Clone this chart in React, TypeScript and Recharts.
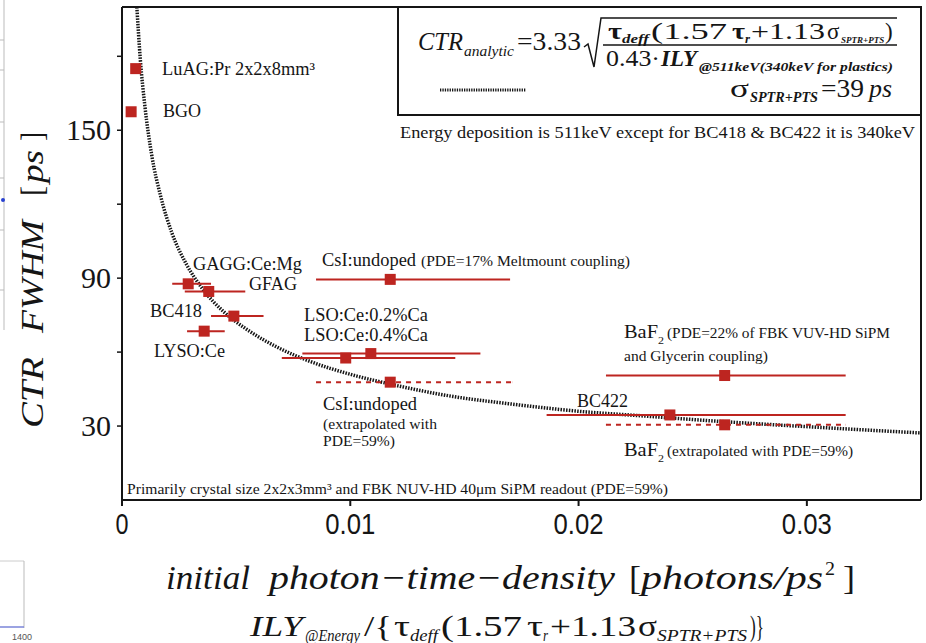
import React from "react";
import {
  ComposedChart,
  Scatter,
  Line,
  XAxis,
  YAxis,
  ErrorBar,
} from "recharts";

// measured crystals (solid error bars)
const crystals = [
  "LuAG:Pr",
  "BGO",
  "GAGG:Ce:Mg",
  "GFAG",
  "BC418",
  "LYSO:Ce",
  "CsI:undoped",
  "LSO:Ce:0.2%Ca",
  "LSO:Ce:0.4%Ca",
  "BaF2",
  "BC422",
];
const density = [0.0006, 0.0004, 0.0029, 0.0038, 0.0049, 0.0036, 0.01175, 0.0109, 0.0098, 0.0264, 0.024];
const ctr = [175, 157.5, 87.7, 84.6, 74.6, 68.5, 89.5, 59.4, 57.6, 50.5, 34.5];
const densityLow = [0.0006, 0.0004, 0.0022, 0.00275, 0.0039, 0.00285, 0.0085, 0.0079, 0.007, 0.0212, 0.0186];
const densityHigh = [0.0006, 0.0004, 0.0039, 0.0054, 0.0062, 0.0045, 0.017, 0.0157, 0.0146, 0.0317, 0.0317];

// extrapolated with PDE=59% (dashed error bars)
const extraCrystals = ["CsI:undoped", "BaF2"];
const extraDensity = [0.01175, 0.0264];
const extraCtr = [47.8, 30.5];
const extraLow = [0.0085, 0.0212];
const extraHigh = [0.0171, 0.0317];

// analytic curve
const curveX = [0.00065, 0.0008, 0.001, 0.0013, 0.0017, 0.0022, 0.0028, 0.0035, 0.0045, 0.0055, 0.0068, 0.0083, 0.01, 0.012, 0.0145, 0.017, 0.02, 0.023, 0.026, 0.029, 0.032, 0.035];
const curveY = [200, 179, 160, 140, 123, 108, 96, 86, 76, 69, 62, 56, 51, 46.5, 42, 39, 36, 34, 32, 30.3, 28.7, 27.2];

const xTicks = [0, 0.01, 0.02, 0.03];
const xTickLabels = ["0", "0.01", "0.02", "0.03"];
const yTicks = [30, 60, 90, 120, 150, 180];
const yTickLabels = [30, 90, 150];

const RED = "#bd2520";
const INK = "#151515";
const serif = "Liberation Serif, DejaVu Serif, serif";

const measured = crystals.map((name, i) => ({
  name,
  x: density[i],
  y: ctr[i],
  ex: [density[i] - densityLow[i], densityHigh[i] - density[i]],
}));
const extrapolated = extraCrystals.map((name, i) => ({
  name,
  x: extraDensity[i],
  y: extraCtr[i],
  ex: [extraDensity[i] - extraLow[i], extraHigh[i] - extraDensity[i]],
}));
const curve = curveX.map((x, i) => ({ x, y: curveY[i] }));

const SquareMark = (props: any) => {
  const { cx, cy } = props;
  if (cx == null || cy == null) return null;
  return <rect x={cx - 5.5} y={cy - 5.5} width={11} height={11} fill={RED} />;
};

const YTick = (props: any) => {
  const { x, y, payload } = props;
  if (!yTickLabels.includes(payload.value)) return null;
  return (
    <text x={x} y={y + 10} textAnchor="end" fontFamily={serif} fontSize={30} fill={INK}>
      {payload.value}
    </text>
  );
};

const XTick = (props: any) => {
  const { x, y, payload } = props;
  const label = xTickLabels[xTicks.indexOf(payload.value)] ?? String(payload.value);
  const w = label.length === 1 ? 13 : 50;
  return (
    <text
      x={x - w / 2}
      y={y + 24}
      fontFamily="Liberation Sans, sans-serif"
      fontSize={30}
      fill={INK}
      textLength={w}
      lengthAdjust="spacingAndGlyphs"
    >
      {label}
    </text>
  );
};

// a piece of text stretched to a measured width
const T = ({
  x,
  y,
  w,
  size = 18,
  it = false,
  bold = false,
  children,
}: {
  x: number;
  y: number;
  w?: number;
  size?: number;
  it?: boolean;
  bold?: boolean;
  children: React.ReactNode;
}) => (
  <text
    x={x}
    y={y}
    fontFamily={serif}
    fontSize={size}
    fontStyle={it ? "italic" : "normal"}
    fontWeight={bold ? "bold" : "normal"}
    fill={INK}
    textLength={w}
    lengthAdjust={w ? "spacingAndGlyphs" : undefined}
  >
    {children}
  </text>
);

function Overlay() {
  return (
    <svg
      width={926}
      height={643}
      style={{ position: "absolute", left: 0, top: 0, pointerEvents: "none" }}
    >
      {/* bits of the neighbouring figure at the left edge */}
      <line x1={4} y1={0} x2={4} y2={330} stroke="#bbb" strokeWidth={1} />
      {[40, 70, 122, 178, 230, 290].map((t) => (
        <line key={t} x1={0} y1={t} x2={4} y2={t} stroke="#bbb" />
      ))}
      <circle cx={3} cy={200} r={2} fill="#2740d0" />
      <line x1={0} y1={561} x2={24} y2={561} stroke="#ccc" />
      <line x1={24} y1={561} x2={24} y2={628} stroke="#bbb" />
      <line x1={0} y1={627} x2={24} y2={627} stroke="#7a84d8" strokeWidth={1.5} />
      <text x={12} y={640} fontFamily="Liberation Sans" fontSize={9} fill="#555">1400</text>

      {/* frame */}
      <line x1={122} y1={7} x2={922} y2={7} stroke={INK} strokeWidth={2} />
      <line x1={921} y1={7} x2={921} y2={500} stroke={INK} strokeWidth={2} />

      {/* formula box */}
      <rect x={398} y={7} width={523} height={108} fill="#fff" stroke={INK} strokeWidth={2} />
      <T x={418} y={50} w={45} size={26} it>CTR</T>
      <T x={464} y={56} w={50} size={14} it>analytic</T>
      <T x={517} y={50} w={64} size={26}>=3.33</T>
      <polyline
        points="584,47 588,44 594,67 601,18 897,18"
        fill="none"
        stroke={INK}
        strokeWidth={1.5}
      />
      <T x={608} y={39} w={14} size={23} bold>τ</T>
      <T x={622} y={43} w={27} size={12} it bold>deff</T>
      <T x={651} y={39} w={76} size={23}>(1.57</T>
      <T x={732} y={39} w={13} size={23} bold>τ</T>
      <T x={745} y={43} w={5} size={12} it bold>r</T>
      <T x={751} y={39} w={74} size={23}>+1.13</T>
      <T x={827} y={39} size={23}>σ</T>
      <T x={841} y={43} size={9} it bold>SPTR+PTS</T>
      <T x={885} y={39} size={23}>)</T>
      <line x1={603} y1={45} x2={897} y2={45} stroke={INK} strokeWidth={1.5} />
      <T x={606} y={66} w={54} size={24}>0.43·</T>
      <T x={661} y={66} w={36} size={24} it bold>ILY</T>
      <T x={699} y={71} w={194} size={12} it bold>@511keV(340keV for plastics)</T>
      <line x1={440} y1={90} x2={526} y2={90} stroke={INK} strokeWidth={3} strokeDasharray="1.3 1.1" />
      <T x={730} y={97} w={19} size={26}>σ</T>
      <T x={750} y={102} w={68} size={14} it bold>SPTR+PTS</T>
      <T x={821} y={97} w={43} size={26}>=39</T>
      <T x={869} y={97} w={23} size={26} it>ps</T>
      <T x={400} y={138} w={515} size={16}>
        Energy deposition is 511keV except for BC418 &amp; BC422 it is 340keV
      </T>

      {/* crystal labels */}
      <T x={162} y={75} w={153} size={18}>LuAG:Pr 2x2x8mm³</T>
      <T x={163} y={117} w={38} size={18}>BGO</T>
      <T x={193} y={270} w={109} size={18}>GAGG:Ce:Mg</T>
      <T x={249} y={290} w={48} size={18}>GFAG</T>
      <T x={150} y={317} w={52} size={18}>BC418</T>
      <T x={154} y={357} w={71} size={18}>LYSO:Ce</T>
      <T x={322} y={266} w={94} size={18}>CsI:undoped</T>
      <T x={421} y={266} w={209} size={14}>(PDE=17% Meltmount coupling)</T>
      <T x={304} y={321} w={124} size={18}>LSO:Ce:0.2%Ca</T>
      <T x={304} y={341} w={124} size={18}>LSO:Ce:0.4%Ca</T>
      <T x={323} y={410} w={94} size={18}>CsI:undoped</T>
      <T x={323} y={429} w={114} size={14}>(extrapolated with</T>
      <T x={323} y={446} w={72} size={14}>PDE=59%)</T>
      <T x={624} y={338} w={34} size={18}>BaF</T>
      <T x={658} y={344} w={6} size={11}>2</T>
      <T x={667} y={338} w={223} size={14}>(PDE=22% of FBK VUV-HD SiPM</T>
      <T x={624} y={361} w={144} size={14}>and Glycerin coupling)</T>
      <T x={577} y={407} w={51} size={18}>BC422</T>
      <T x={624} y={456} w={34} size={18}>BaF</T>
      <T x={658} y={462} w={6} size={11}>2</T>
      <T x={667} y={456} w={186} size={14}>(extrapolated with PDE=59%)</T>
      <T x={127} y={494} w={541} size={14}>
        Primarily crystal size 2x2x3mm³ and FBK NUV-HD 40μm SiPM readout (PDE=59%)
      </T>

      {/* x axis titles */}
      <T x={166} y={589} w={84} size={34} it>initial</T>
      <T x={269} y={589} w={346} size={34} it>photon−time−density</T>
      <T x={629} y={589} w={12} size={34}>[</T>
      <T x={641} y={589} w={182} size={34} it>photons/ps</T>
      <T x={825} y={575} w={10} size={19}>2</T>
      <T x={843} y={589} w={12} size={34}>]</T>

      <T x={250} y={636} w={53} size={30} it>ILY</T>
      <T x={305} y={641} w={55} size={16} it>@Energy</T>
      <T x={364} y={636} w={28} size={30}>/{"{"}</T>
      <T x={394} y={636} w={16} size={30}>τ</T>
      <T x={410} y={641} w={28} size={16} it>deff</T>
      <T x={441} y={636} w={81} size={30}>(1.57</T>
      <T x={527} y={636} w={16} size={30}>τ</T>
      <T x={543} y={641} w={5} size={16} it>r</T>
      <T x={550} y={636} w={86} size={30}>+1.13</T>
      <T x={638} y={636} w={19} size={30}>σ</T>
      <T x={657} y={641} w={90} size={16} it>SPTR+PTS</T>
      <T x={750} y={636} w={14} size={30}>{")}"}</T>

      {/* y axis title, rotated */}
      <g transform="rotate(-90)">
        <T x={-428} y={43} w={71} size={32} it>CTR</T>
        <T x={-333} y={43} w={113} size={32} it>FWHM</T>
        <T x={-196} y={43} w={10} size={32}>[</T>
        <T x={-183} y={43} w={33} size={32} it>ps</T>
        <T x={-141} y={43} w={9} size={32}>]</T>
      </g>
    </svg>
  );
}

export default function App() {
  return (
    <div
      style={{
        position: "absolute",
        left: 0,
        top: 0,
        width: 926,
        height: 643,
        background: "#fff",
        overflow: "hidden",
      }}
    >
      <ComposedChart
        width={926}
        height={643}
        margin={{ top: 7, right: 5, left: 62, bottom: 103 }}
      >
        <XAxis
          dataKey="x"
          type="number"
          domain={[0, 0.035]}
          ticks={xTicks}
          allowDataOverflow
          height={40}
          tickSize={6}
          tickMargin={4}
          axisLine={{ stroke: INK, strokeWidth: 2 }}
          tickLine={{ stroke: INK, strokeWidth: 2 }}
          tick={<XTick />}
        />
        <YAxis
          type="number"
          domain={[0, 200]}
          ticks={yTicks}
          allowDataOverflow
          width={60}
          tickSize={5}
          tickMargin={6}
          axisLine={{ stroke: INK, strokeWidth: 2 }}
          tickLine={{ stroke: INK, strokeWidth: 1.5 }}
          tick={<YTick />}
        />
        <Line
          data={curve}
          dataKey="y"
          type="monotone"
          stroke={INK}
          strokeWidth={3.5}
          strokeDasharray="1.5 1.3"
          dot={false}
          activeDot={false}
          isAnimationActive={false}
        />
        <Scatter data={measured} dataKey="y" shape={<SquareMark />} isAnimationActive={false}>
          <ErrorBar dataKey="ex" direction="x" width={0} stroke={RED} strokeWidth={2} />
        </Scatter>
        <Scatter data={extrapolated} dataKey="y" shape={<SquareMark />} isAnimationActive={false}>
          <ErrorBar
            dataKey="ex"
            direction="x"
            width={0}
            stroke={RED}
            strokeWidth={2}
            strokeDasharray="5 5"
          />
        </Scatter>
      </ComposedChart>
      <Overlay />
    </div>
  );
}
